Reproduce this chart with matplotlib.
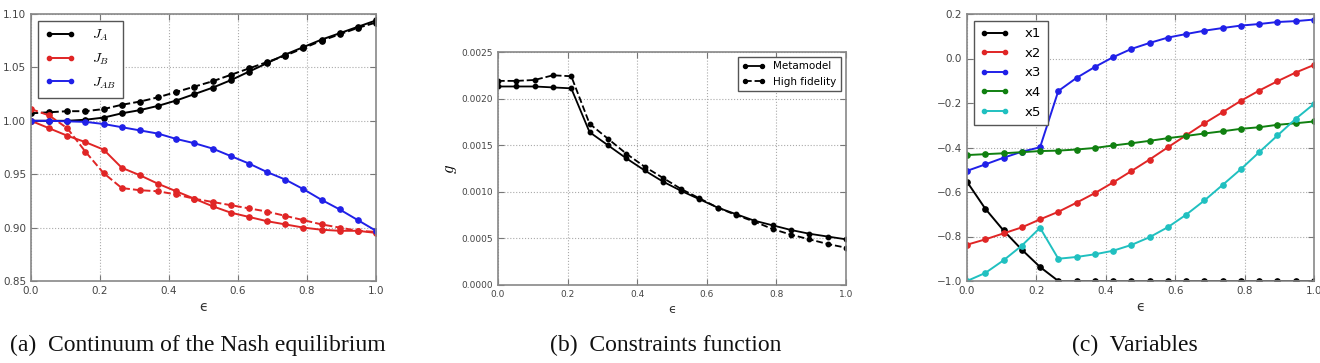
import numpy as np
import matplotlib
matplotlib.use("Agg")
import matplotlib.pyplot as plt
from matplotlib.ticker import FormatStrFormatter

eps = np.linspace(0, 1, 20)

# Panel (a)
JA_meta = [1.000, 1.000, 1.000, 1.001, 1.003, 1.007, 1.010, 1.014, 1.019, 1.025,
           1.031, 1.038, 1.046, 1.054, 1.062, 1.069, 1.076, 1.082, 1.088, 1.094]
JA_hf = [1.007, 1.008, 1.009, 1.009, 1.011, 1.015, 1.018, 1.022, 1.027, 1.032,
         1.037, 1.043, 1.049, 1.055, 1.061, 1.068, 1.075, 1.081, 1.087, 1.092]
JB_meta = [1.000, 0.993, 0.986, 0.980, 0.973, 0.956, 0.949, 0.941, 0.934, 0.927,
           0.920, 0.914, 0.910, 0.906, 0.903, 0.900, 0.898, 0.897, 0.897, 0.895]
JB_hf = [1.011, 1.005, 0.993, 0.971, 0.951, 0.937, 0.935, 0.934, 0.931, 0.927,
         0.924, 0.921, 0.918, 0.915, 0.911, 0.907, 0.903, 0.900, 0.897, 0.896]
JAB = [1.000, 1.000, 0.9995, 0.999, 0.997, 0.994, 0.991, 0.988, 0.983, 0.979,
       0.974, 0.967, 0.960, 0.952, 0.945, 0.936, 0.926, 0.917, 0.907, 0.897]

# Panel (b)
g_meta = [0.00213, 0.00213, 0.00213, 0.00212, 0.00211, 0.00164, 0.00150, 0.00136, 0.00123, 0.00111,
          0.00101, 0.00092, 0.00083, 0.00076, 0.00069, 0.00064, 0.00059, 0.00055, 0.00052, 0.00049]
g_hf = [0.00219, 0.00219, 0.00220, 0.00225, 0.00224, 0.00173, 0.00157, 0.00141, 0.00127, 0.00115,
        0.00103, 0.00093, 0.00083, 0.00075, 0.00068, 0.00060, 0.00054, 0.00049, 0.00044, 0.00040]

# Panel (c)
x1 = [-0.554, -0.675, -0.773, -0.859, -0.937, -1.0, -1.0, -1.0, -1.0, -1.0,
      -1.0, -1.0, -1.0, -1.0, -1.0, -1.0, -1.0, -1.0, -1.0, -1.0]
x2 = [-0.837, -0.813, -0.786, -0.759, -0.723, -0.689, -0.648, -0.605, -0.557, -0.506,
      -0.454, -0.399, -0.345, -0.291, -0.241, -0.190, -0.144, -0.102, -0.063, -0.029]
x3 = [-0.505, -0.476, -0.446, -0.419, -0.399, -0.146, -0.087, -0.038, 0.006, 0.043,
      0.070, 0.094, 0.110, 0.125, 0.137, 0.148, 0.155, 0.164, 0.168, 0.175]
x4 = [-0.434, -0.430, -0.426, -0.421, -0.416, -0.414, -0.409, -0.402, -0.391, -0.381,
      -0.370, -0.358, -0.348, -0.337, -0.327, -0.316, -0.309, -0.298, -0.291, -0.283]
x5 = [-1.0, -0.964, -0.907, -0.841, -0.761, -0.900, -0.892, -0.880, -0.864, -0.838,
      -0.803, -0.758, -0.702, -0.638, -0.568, -0.497, -0.421, -0.346, -0.271, -0.204]

yticks_c = [-1.0, -0.8, -0.6, -0.4, -0.2, 0.0, 0.2]
ytick_labels_c = ['\u22121.0', '\u22120.8', '\u22120.6', '\u22120.4', '\u22120.2', '0.0', '0.2']

captions = ["(a)  Continuum of the Nash equilibrium", "(b)  Constraints function", "(c)  Variables"]

plt.rcParams['xtick.direction'] = 'in'
plt.rcParams['ytick.direction'] = 'in'
plt.rcParams['xtick.top'] = True
plt.rcParams['ytick.right'] = True
plt.rcParams['legend.numpoints'] = 2
plt.rcParams['mathtext.fontset'] = 'cm'

fig = plt.figure(figsize=(13.2, 3.63), dpi=100)

W, H = 1320.0, 363.0
def ax_at(l, t, r, b):
    return fig.add_axes([l / W, 1 - b / H, (r - l) / W, (b - t) / H])

axA = ax_at(31, 14, 376, 281)
axB = ax_at(498, 52, 846, 285)
axC = ax_at(967, 14, 1314, 281)

tick_col = '#444444'
def style(ax, fs):
    ax.grid(True, linestyle=':', color='#aaaaaa', linewidth=0.8)
    for s in ax.spines.values():
        s.set_color('#888888')
        s.set_linewidth(1.2)
    ax.tick_params(labelsize=fs, colors='#777777', labelcolor=tick_col, length=4, width=0.8)
    ax.set_axisbelow(True)

ms = 3.8
lw = 1.4
red = '#e02525'
blue = '#2020e8'
# (a)
axA.plot(eps, JA_meta, '-o', color='k', ms=ms, lw=lw, label='$J_A$')
axA.plot(eps, JA_hf, '--o', color='k', ms=ms, lw=lw)
axA.plot(eps, JB_meta, '-o', color=red, ms=ms, lw=lw, label='$J_B$')
axA.plot(eps, JB_hf, '--o', color=red, ms=ms, lw=lw)
axA.plot(eps, JAB, '-o', color=blue, ms=ms, lw=lw, label='$J_{AB}$')
axA.set_xlim(0, 1)
axA.set_ylim(0.85, 1.10)
axA.set_yticks([0.85, 0.90, 0.95, 1.00, 1.05, 1.10])
axA.yaxis.set_major_formatter(FormatStrFormatter('%.2f'))
axA.xaxis.set_major_formatter(FormatStrFormatter('%.1f'))
style(axA, 7.5)
legA = axA.legend(loc='upper left', fontsize=10, fancybox=False, edgecolor='#555555',
                  handlelength=2.2, handletextpad=1.2, borderpad=0.5, labelspacing=0.6,
                  framealpha=1, markerscale=0.8)
legA.get_frame().set_linewidth(1.0)
axA.set_xlabel('\u03f5', fontsize=10, labelpad=3, color='#333333')

# (b)
axB.plot(eps, g_meta, '-o', color='k', ms=3.2, lw=1.3, label='Metamodel')
axB.plot(eps, g_hf, '--o', color='k', ms=3.2, lw=1.3, label='High fidelity')
axB.set_xlim(0, 1)
axB.set_ylim(0, 0.0025)
axB.set_yticks([0.0, 0.0005, 0.0010, 0.0015, 0.0020, 0.0025])
axB.yaxis.set_major_formatter(FormatStrFormatter('%.4f'))
axB.xaxis.set_major_formatter(FormatStrFormatter('%.1f'))
style(axB, 6.5)
legB = axB.legend(loc='upper right', fontsize=7.5, fancybox=False, edgecolor='#555555',
                  handlelength=2.2, borderpad=0.4, labelspacing=0.5, framealpha=1,
                  markerscale=0.9)
axB.set_xlabel('\u03f5', fontsize=9, labelpad=3, color='#333333')
axB.set_ylabel('$g$', fontsize=12, labelpad=2)

# (c)
for vals, col, lab in [(x1, 'k', 'x1'), (x2, red, 'x2'), (x3, blue, 'x3'),
                       (x4, '#108010', 'x4'), (x5, '#20c0c0', 'x5')]:
    axC.plot(eps, vals, '-o', color=col, ms=ms, lw=lw, label=lab)
axC.set_xlim(0, 1)
axC.set_ylim(-1.0, 0.2)
axC.set_yticks(yticks_c)
axC.set_yticklabels(ytick_labels_c)
axC.xaxis.set_major_formatter(FormatStrFormatter('%.1f'))
style(axC, 7.5)
legC = axC.legend(loc='upper left', fontsize=9.5, fancybox=False, edgecolor='#555555',
                  handlelength=2.2, handletextpad=1.2, borderpad=0.5, labelspacing=0.5,
                  framealpha=1, markerscale=0.8)
axC.set_xlabel('\u03f5', fontsize=10, labelpad=3, color='#333333')

cap_x = [198, 666, 1135]
for cx, cap in zip(cap_x, captions):
    fig.text(cx / W, 1 - 345 / H, cap, ha='center', va='center', fontsize=17,
             family='Liberation Serif', color='#111111')

fig.savefig('out.png', dpi=100)
